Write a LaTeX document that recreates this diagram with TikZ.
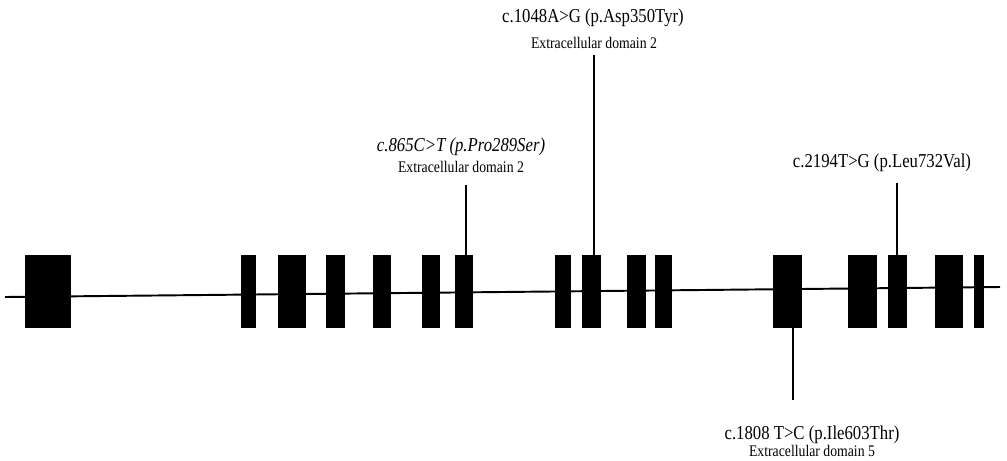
\documentclass[tikz,border=0pt]{standalone}
\usepackage{fontspec}
\setmainfont{Liberation Serif}[FakeStretch=0.85]
\usepackage{tikz}
\usetikzlibrary{positioning,fit}

\tikzset{
  exon/.style={fill=black, draw=none, inner sep=0pt},
  intron/.style={line width=1.1pt},
  stem/.style={line width=0.6pt},
  mut/.style={font=\fontsize{11.2}{13}\selectfont, inner sep=0pt},
  dom/.style={font=\fontsize{9.2}{11}\selectfont, inner sep=0pt}
}

\begin{document}
\begin{tikzpicture}[x=0.02cm, y=-0.02cm]
    \useasboundingbox (0,0) rectangle (1007,460);
    % gene backbone
    \coordinate (gstart) at (5,297);
    \coordinate (gend) at (1000,287);
    \draw [intron] (gstart) -- (gend);
    % exons
    \foreach \l/\r [count=\i] in {25/71, 241/256, 278/306, 326/345, 373/391, 422/440, 455/473,
                                  555/571, 582/601, 627/646, 655/672, 773/802, 848/877,
                                  888/907, 935/963, 974/984}
        \node [exon, fit={(\l,255) (\r,328)}] (e\i) {};
    % c.865C>T
    \node [mut] (m865) at (461,147) {\itshape c.865C>T (p.Pro289Ser)};
    \node [dom] (d865) at (461,167) {Extracellular domain 2};
    \coordinate (s865) at (466,185);
    \draw [stem] (s865) -- (s865 |- e7.north);
    % c.1048A>G
    \node [mut] (m1048) at (593,18) {c.1048A>G (p.Asp350Tyr)};
    \node [dom] (d1048) at (594,43) {Extracellular domain 2};
    \coordinate (s1048) at (594,55);
    \draw [stem] (s1048) -- (s1048 |- e9.north);
    % c.2194T>G
    \node [mut] (m2194) at (882,163) {c.2194T>G (p.Leu732Val)};
    \coordinate (s2194) at (897,183);
    \draw [stem] (s2194) -- (s2194 |- e14.north);
    % c.1808T>C
    \coordinate (s1808) at (793,400);
    \draw [stem] (s1808 |- e12.south) -- (s1808);
    \node [mut] (m1808) at (812,435) {c.1808 T>C (p.Ile603Thr)};
    \node [dom] (d1808) at (812,451) {Extracellular domain 5};
\end{tikzpicture}
\end{document}
